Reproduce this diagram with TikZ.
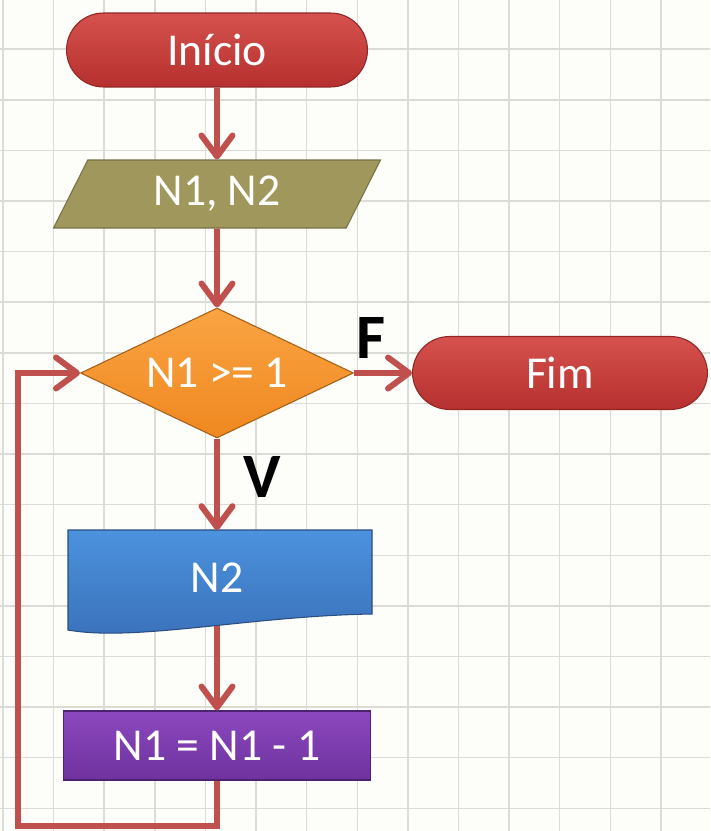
\documentclass[tikz,border=0pt]{standalone}
\usepackage{fontspec}
\setmainfont{Carlito}
\usetikzlibrary{shapes.geometric,arrows.meta}
\definecolor{fundo}{HTML}{FDFDFA}
\definecolor{grade}{HTML}{DCDCD6}
\definecolor{seta}{HTML}{C0504D}
\definecolor{termotopo}{HTML}{D6524E}
\definecolor{termobase}{HTML}{B5302E}
\definecolor{leituracor}{HTML}{9F975C}
\definecolor{testetopo}{HTML}{FAA443}
\definecolor{testebase}{HTML}{EF8820}
\definecolor{saidatopo}{HTML}{4C92DD}
\definecolor{saidabase}{HTML}{3A70BA}
\definecolor{contatopo}{HTML}{8C48BE}
\definecolor{contabase}{HTML}{6E329E}

\begin{document}
\begin{tikzpicture}[x=0.02cm, y=-0.02cm,
    texto/.style={text=white, font=\fontsize{26}{30}\selectfont},
    termo/.style={texto, rectangle, rounded corners=0.74cm, top color=termotopo, bottom color=termobase, draw=termobase!80!black, line width=0.6pt, minimum width=6.02cm, minimum height=1.48cm},
    ligacao/.style={draw=seta, line width=3.4pt, -{Straight Barb[length=0.42cm, width=0.62cm, round]}},
    rotulo/.style={font=\fontsize{36}{40}\selectfont\bfseries, text=black}]
    \useasboundingbox (0,0) rectangle (710,831);
    \fill[fundo] (0,0) rectangle (710,831);
    \foreach \i in {0,...,14}
        \draw[grade, line width=0.8pt] ({3+50.6*\i},0) -- ({3+50.6*\i},831);
    \foreach \j in {1,...,16}
        \draw[grade, line width=0.8pt] (0,{-1.4+50.6*\j}) -- (710,{-1.4+50.6*\j});

    \node[termo] (inicio) at (217,50) {Início};
    \node[texto, trapezium, trapezium left angle=46, trapezium right angle=134, trapezium stretches body, fill=leituracor, draw=leituracor!75!black, line width=0.6pt, minimum width=6.54cm, minimum height=1.36cm, inner sep=0pt] (leitura) at (217,194) {N1, N2};
    \node[texto, diamond, shape aspect=2.1, top color=testetopo, bottom color=testebase, draw=testebase!70!black, line width=0.6pt, minimum width=5.46cm, minimum height=2.6cm, inner sep=0pt] (teste) at (217,373) {N1 >= 1};
    \node[termo, minimum width=5.9cm, minimum height=1.46cm] (fim) at (560,373) {Fim};

    \shade[top color=saidatopo, bottom color=saidabase, draw=saidabase!70!black, line width=0.6pt] (68,530) -- (372,530) -- (372,614) .. controls (250,616) and (135,642) .. (68,630) -- cycle;
    \node[texto, minimum width=6.08cm, minimum height=1.9cm] (saida) at (217,578) {N2};
    \node[texto, rectangle, top color=contatopo, bottom color=contabase, draw=contabase!70!black, line width=0.6pt, minimum width=6.14cm, minimum height=1.38cm] (conta) at (217,745.5) {N1 = N1 - 1};

    \node[rotulo] (falso) at (371,338) {F};
    \node[rotulo] (verdadeiro) at (262,477) {V};

    \coordinate (retorno) at (18,826);
    \draw[ligacao] (inicio) -- (leitura);
    \draw[ligacao] (leitura) -- (teste);
    \draw[ligacao] (teste) -- (fim);
    \draw[ligacao] (teste) -- (saida);
    \draw[ligacao] (saida) -- (conta);
    \draw[ligacao] (conta.south) |- (retorno) |- (teste.west);
\end{tikzpicture}
\end{document}
